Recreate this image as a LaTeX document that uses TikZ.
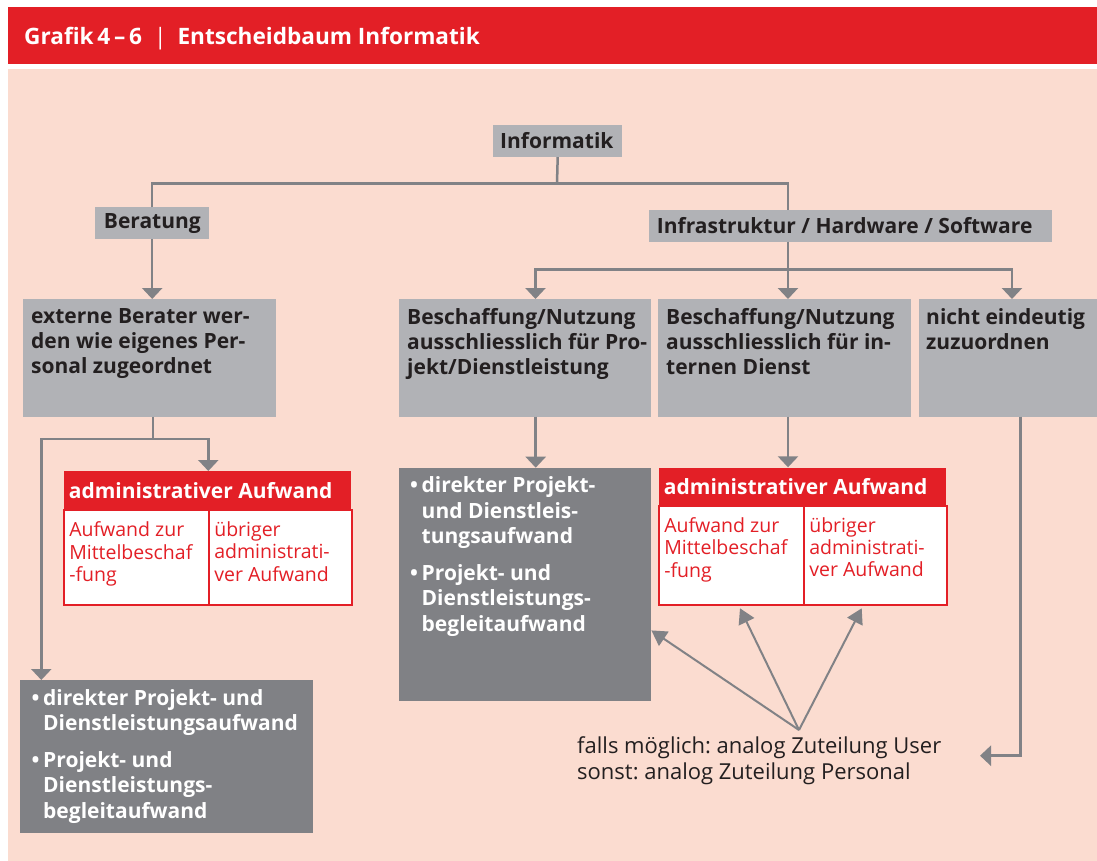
\documentclass[tikz,border=0pt]{standalone}
\usepackage{fontspec}
\setmainfont{Open Sans}
\usetikzlibrary{arrows.meta}
\definecolor{pinkbg}{HTML}{FBDCD0}
\definecolor{hred}{HTML}{E31F26}
\definecolor{lgray}{HTML}{B1B2B6}
\definecolor{dgray}{HTML}{808185}
\definecolor{lingray}{HTML}{818286}
\definecolor{txt}{HTML}{231F20}
\newcommand{\myTB}[3]{\parbox[c][#2][t]{#1}{\raggedright #3}}
\newcommand{\fs}[2]{\fontsize{#1}{#2}\selectfont}
\newcommand{\bitem}[1]{\hangindent=11.5pt\hangafter=1\noindent\makebox[11.5pt][l]{•}#1\par}
\hyphenpenalty=10000
\frenchspacing
\begin{document}
\begin{tikzpicture}[x=1pt,y=-1pt,
  gtitle/.style={anchor=north west, fill=lgray, text=txt, font=\bfseries\fs{21}{24}, inner ysep=0pt},
  gbody/.style={anchor=north west, fill=lgray, text=txt, font=\bfseries\fs{21}{25}, inner xsep=8pt, inner ysep=9pt},
  dbody/.style={anchor=north west, fill=dgray, text=white, font=\bfseries\fs{21}{25.5}, inner ysep=9pt},
  rhead/.style={anchor=north west, fill=hred, text=white, font=\bfseries\fs{21}{24}, inner xsep=5.4pt, inner ysep=0pt},
  cell/.style={anchor=north west, fill=white, draw=hred, line width=2pt, text=hred, font=\fs{19.5}{22.3}, inner xsep=5pt, inner ysep=11.5pt},
  conn/.style={draw=lingray, line width=2.5pt},
  arr/.style={conn, -{Triangle[width=20pt,length=11pt]}},
  diag/.style={draw=lingray, line width=2pt, -{Triangle[width=17pt,length=15pt]}}
]
\useasboundingbox (0,0) rectangle (1097,861);
\fill[white] (0,0) rectangle (1097,861);
\fill[pinkbg] (8,69) rectangle (1097,861);
\fill[hred] (8,7) rectangle (1097,64);
\node[anchor=base west, inner sep=0pt, text=white, font=\bfseries\fs{22.6}{26}] (title) at (24,44.9)
  {Grafik\,4\,–\,6\hspace{12pt}{\mdseries|}\hspace{11pt}Entscheidbaum Informatik};

% title boxes
\node[gtitle, inner xsep=7pt, minimum height=31.7pt] (inf) at (493,125) {\makebox[115pt][l]{Informatik}};
\node[gtitle, inner xsep=8.7pt, minimum height=31.4pt] (ber) at (95,207.3) {\makebox[96.6pt][l]{Beratung}};
\node[gtitle, inner xsep=7.7pt, minimum height=31.7pt] (infra) at (649,210) {\makebox[387.3pt][l]{Infrastruktur / Hardware / Software}};

% body boxes
\node[gbody] (ext) at (23,299) {\myTB{237pt}{99.7pt}{\mbox{externe Berater wer-}\\\mbox{den wie eigenes Per-}\\\mbox{sonal zugeordnet}}};
\node[gbody] (b1) at (399,299) {\myTB{236pt}{99.7pt}{\mbox{Beschaffung/Nutzung}\\\mbox{ausschliesslich für Pro-}\\\mbox{jekt/Dienstleistung}}};
\node[gbody] (b2) at (658,299) {\myTB{237pt}{99.7pt}{\mbox{Beschaffung/Nutzung}\\\mbox{ausschliesslich für in-}\\\mbox{ternen Dienst}}};
\node[gbody, inner xsep=7pt] (b3) at (919,299) {\myTB{164pt}{99.7pt}{\mbox{nicht eindeutig}\\\mbox{zuzuordnen}}};

% red boxes
\node[rhead, minimum height=38.3pt] (rh1) at (63.3,471) {\makebox[276.6pt][l]{administrativer Aufwand}};
\node[cell] (c1a) at (63.3,509.3) {\myTB{135pt}{72pt}{\mbox{Aufwand zur}\\\mbox{Mittelbeschaf}\\\mbox{-fung}}};
\node[cell] (c1b) at (208.3,509.3) {\myTB{132.4pt}{72pt}{\mbox{übriger}\\\mbox{administrati-}\\\mbox{ver Aufwand}}};
\node[rhead, minimum height=37.7pt] (rh2) at (658.3,467.3) {\makebox[276.9pt][l]{administrativer Aufwand}};
\node[cell] (c2a) at (658.3,505) {\myTB{135pt}{76.3pt}{\mbox{Aufwand zur}\\\mbox{Mittelbeschaf}\\\mbox{-fung}}};
\node[cell] (c2b) at (803.3,505) {\myTB{132.7pt}{76.3pt}{\mbox{übriger}\\\mbox{administrati-}\\\mbox{ver Aufwand}}};

% dark boxes
\node[dbody, inner xsep=11.5pt] (d1) at (20,680) {\myTB{269.7pt}{134.7pt}{\setlength{\parskip}{11pt}%
  \bitem{\mbox{direkter Projekt- und}\newline\mbox{Dienstleistungsaufwand}}%
  \bitem{\mbox{Projekt- und}\newline\mbox{Dienstleistungs-}\newline\mbox{begleitaufwand}}}};
\node[dbody, inner xsep=11pt] (d2) at (399,467.7) {\myTB{230pt}{215.3pt}{\setlength{\parskip}{11pt}%
  \bitem{\mbox{direkter Projekt-}\newline\mbox{und Dienstleis-}\newline\mbox{tungsaufwand}}%
  \bitem{\mbox{Projekt- und}\newline\mbox{Dienstleistungs-}\newline\mbox{begleitaufwand}}}};

% note
\node[anchor=north west, inner sep=0pt, text=txt, font=\fs{22}{26}, align=left] (note) at (577,736.5)
  {falls möglich: analog Zuteilung User\\sonst: analog Zuteilung Personal};

% connectors
\coordinate (tj) at (557,183.3);
\coordinate (infIn) at (788,210);
\draw[conn] (inf.south) -- (tj);
\draw[conn] (ber.north) |- (tj) -| (infIn);
\draw[arr] (ber.south) -- (ber.south |- ext.north);

\coordinate (infOut) at (788,241.7);
\coordinate (hj) at (788,269.3);
\coordinate (b1in) at (535.5,299);
\coordinate (b2in) at (788,299);
\coordinate (b3in) at (1012,299);
\draw[arr] (infOut) -- (b2in);
\draw[arr] (hj) -| (b1in);
\draw[arr] (hj) -| (b3in);

\coordinate (extOut) at (153,416.7);
\coordinate (ej) at (153,439);
\coordinate (rh1in) at (208.3,471);
\coordinate (d1in) at (41.3,680);
\draw[conn] (extOut) -- (ej);
\draw[arr] (ej) -| (rh1in);
\draw[arr] (ej) -| (d1in);

\coordinate (b1out) at (535.7,416.7);
\coordinate (d2in) at (535.7,467.7);
\draw[arr] (b1out) -- (d2in);
\coordinate (b2out) at (788,416.7);
\coordinate (rh2in) at (788,467.3);
\draw[arr] (b2out) -- (rh2in);
\coordinate (b3out) at (1020.7,416.7);
\coordinate (b3tip) at (980,755.7);
\draw[arr] (b3out) |- (b3tip);

\coordinate (fork) at (799,730);
\draw[diag] (fork) -- ([yshift=71pt]d2.south east);
\draw[diag] (fork) -- ([xshift=81.7pt,yshift=-2pt]c2a.south west);
\draw[diag] (fork) -- ([xshift=58.4pt,yshift=-2pt]c2b.south west);
\end{tikzpicture}
\end{document}
